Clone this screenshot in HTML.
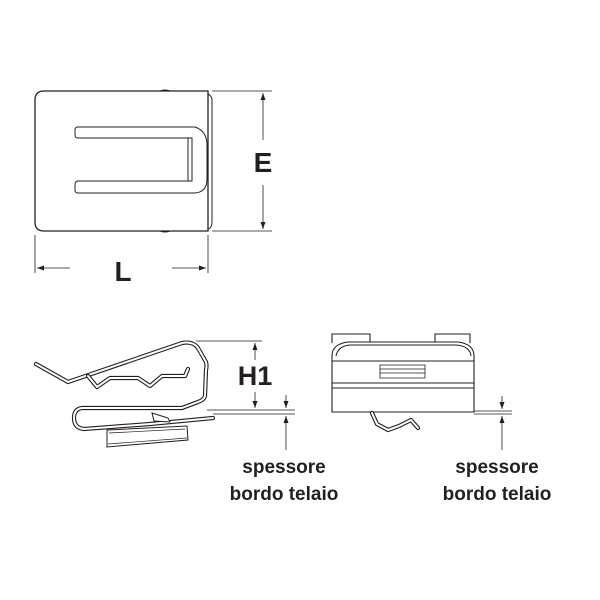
<!DOCTYPE html>
<html><head><style>
html,body{margin:0;padding:0;background:#fff;}
svg{display:block;}
text{font-family:"Liberation Sans",Arial,sans-serif;font-weight:bold;fill:#231f20;}
</style></head><body>
<svg width="600" height="600" viewBox="0 0 600 600" xmlns="http://www.w3.org/2000/svg">
<defs>
<marker id="a" markerWidth="8" markerHeight="8" refX="7" refY="4" orient="auto" markerUnits="userSpaceOnUse">
<path d="M0,1.5 L7,4 L0,6.5 Z" fill="#231f20"/></marker>
</defs>
<g fill="none" stroke="#231f20" stroke-width="1">
<!-- top view -->
<path d="M44,91 H208 V231 H44 Q35,231 35,222 V100 Q35,91 44,91 Z" stroke-width="1.3"/>
<path d="M208,94 Q212,96 212,100 V222 Q212,228 208,229"/>
<path d="M160,91 Q165,89 170,91 M160,231 Q165,233 170,231"/>
<path d="M78,127 H195 Q207,131 207,145 V179 Q207,192 195,193 H78 Q75,193 75,190 V185 Q75,181 78,181 H192 V138 H78 Q75,138 75,135 V130 Q75,127 78,127 Z"/>
<path d="M188,138 V181"/>
<!-- E dim -->
<path d="M212,91 H272 M212,231 H272" stroke-width="0.8"/>
<path d="M263,140 V93" marker-end="url(#a)" stroke-width="0.8"/>
<path d="M263,185 V229" marker-end="url(#a)" stroke-width="0.8"/>
<!-- L dim -->
<path d="M35,235 V273 M208,235 V273" stroke-width="0.8"/>
<path d="M70,268 H37" marker-end="url(#a)" stroke-width="0.8"/>
<path d="M172,268 H206" marker-end="url(#a)" stroke-width="0.8"/>
</g>
<text x="263" y="172" font-size="28" text-anchor="middle">E</text>
<text x="123" y="281" font-size="28" text-anchor="middle">L</text>

<!-- side view clip: double line -->
<g fill="none" stroke-linejoin="round" stroke-linecap="round">
<path id="c1" d="M36,364 L68,382 L182,343 Q193,341 198,348 L206,362 Q207,366 206,370 L205,396 Q204,400 198,402 L182,408 H82 Q74,409 74,418 Q74,428 84,429 L150,424 L213,418" stroke="#231f20" stroke-width="4.2"/>
<path d="M36,364 L68,382 L182,343 Q193,341 198,348 L206,362 Q207,366 206,370 L205,396 Q204,400 198,402 L182,408 H82 Q74,409 74,418 Q74,428 84,429 L150,424 L213,418" stroke="#fff" stroke-width="2"/>
<path d="M88,376 L97,387 L110,378 H138 L150,386 L162,376 H185 L188,369" stroke="#231f20" stroke-width="4.2"/>
<path d="M88,376 L97,387 L110,378 H138 L150,386 L162,376 H185 L188,369" stroke="#fff" stroke-width="2"/>
</g>
<g fill="none" stroke="#231f20" stroke-width="1">
<path d="M107,430 L187,426 L188,440 L107,447 Z" fill="#fff"/>
<path d="M109,433 L185,429 M108,444 L187,438" stroke-width="0.7"/>
<path d="M152,413 L168,418 L170,422 L154,421 Z" fill="#fff"/>
<!-- H1 dim -->
<path d="M196,341 H262 M207,410 H295 M213,414 H295" stroke-width="0.8"/>
<path d="M255,360 V343" marker-end="url(#a)" stroke-width="0.8"/>
<path d="M255,392 V408" marker-end="url(#a)" stroke-width="0.8"/>
<path d="M286,395 V408" marker-end="url(#a)" stroke-width="0.8"/>
<path d="M286,450 V416" marker-end="url(#a)" stroke-width="0.8"/>
</g>
<text x="255" y="385" font-size="27" text-anchor="middle">H1</text>

<!-- right view -->
<g fill="none" stroke="#231f20" stroke-width="1.1">
<path d="M332,343 V334 H370 V342 M435,342 V334 H470 V343"/>
<path d="M332,412 V356 Q332,344 348,342 H458 Q474,344 474,356 V412 Z"/>
<path d="M336,356 Q338,346 350,345 H456 Q470,346 471,356"/>
<path d="M332,361 H474 M332,383 H474 M332,388 H474"/>
<path d="M380,365 H425 V378 H380 Z M380,369 H425 M380,373 H425" stroke-width="0.8"/>
<path d="M474,411 H512 M474,414 H512" stroke-width="0.8"/>
<path d="M502,396 V409" marker-end="url(#a)" stroke-width="0.8"/>
<path d="M502,450 V416" marker-end="url(#a)" stroke-width="0.8"/>
</g>
<g fill="none" stroke-linejoin="round" stroke-linecap="round">
<path d="M372,413 L377,424 L388,430 L399,426 L411,420 L418,428" stroke="#231f20" stroke-width="4.2"/>
<path d="M372,413 L377,424 L388,430 L399,426 L411,420 L418,428" stroke="#fff" stroke-width="2"/>
</g>

<g font-size="19" text-anchor="middle">
<text x="284" y="473">spessore</text>
<text x="284" y="500">bordo telaio</text>
<text x="497" y="473">spessore</text>
<text x="497" y="500">bordo telaio</text>
</g>
</svg>
</body></html>
